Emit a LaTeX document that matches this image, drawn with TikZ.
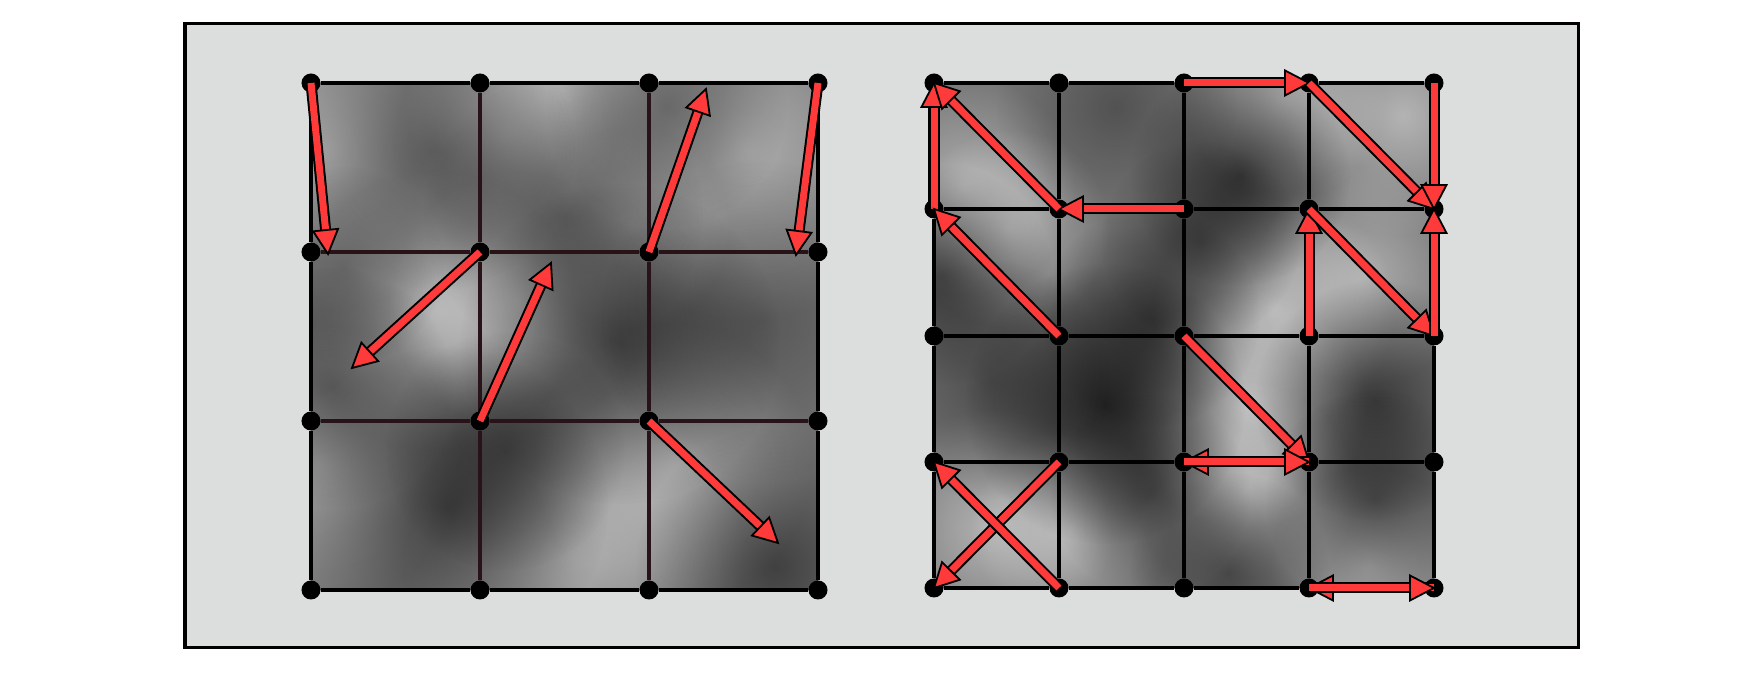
\documentclass[tikz,border=0pt]{standalone}
\usepackage{tikz}
\usetikzlibrary{calc,fadings}
\definecolor{panelgray}{RGB}{220,222,221}
\definecolor{noisegray}{RGB}{118,118,118}
\definecolor{vecred}{RGB}{255,58,58}
\definecolor{seamdark}{RGB}{40,20,24}
\tikzfading[name=blobfade,inner color=transparent!0,outer color=transparent!100]
\tikzset{
  panel/.style={fill=panelgray,draw=black,line width=0.03cm},
  gridpt/.style={circle,fill=black,inner sep=0pt,minimum size=0.19cm},
  seam/.style={draw=seamdark,line width=0.035cm},
  cellline/.style={draw=black,line width=0.04cm},
  lightblob/.style={fill=white,fill opacity=#1,path fading=blobfade},
  darkblob/.style={fill=black,fill opacity=#1,path fading=blobfade},
  vecshaft/.style={draw=black,line width=0.02cm,double=vecred,double distance=0.07cm},
  vectip/.style={fill=vecred,draw=black,line width=0.018cm,line join=miter},
}
% gradient vector from #1 to #2
\newcommand{\gradvec}[2]{%
  \draw[vecshaft] (#1.center) -- ($(#2)!0.2cm!(#1)$);
  \coordinate (tipbase) at ($(#2)!0.24cm!(#1)$);
  \filldraw[vectip] (#2.center) -- ($(tipbase)!0.125cm!90:(#2)$)
    -- ($(tipbase)!0.125cm!-90:(#2)$) -- cycle;
}

\begin{document}
\begin{tikzpicture}[x=0.01cm,y=-0.01cm]
  \useasboundingbox (0,0) rectangle (1762,674);
  \draw[panel] (185,24) rectangle (1578,648);

  % noise, left lattice
  \begin{scope}
    \clip (311,83) rectangle (818,590);
    \fill[noisegray] (311,83) rectangle (818,590);
    \foreach \x/\y/\r/\o in {325/150/80/.4,563/92/80/.45,505/135/55/.3,746/150/85/.4,
        436/310/70/.4,517/301/65/.4,321/464/70/.4,574/559/85/.4,672/464/70/.4,631/228/50/.3}
      \fill[lightblob=\o] (\x,\y) circle [radius={\r*0.02cm}];
    \foreach \x/\y/\r/\o in {436/150/70/.4,563/215/70/.4,666/107/60/.35,333/387/60/.4,
        344/266/50/.3,620/344/80/.5,448/507/80/.5,505/451/60/.4,775/567/70/.45,760/320/80/.25}
      \fill[darkblob=\o] (\x,\y) circle [radius={\r*0.02cm}];
  \end{scope}

  % noise, right lattice
  \begin{scope}
    \clip (934,83) rectangle (1434,588);
    \fill[noisegray] (934,83) rectangle (1434,588);
    \foreach \x/\y/\r/\o in {964/185/55/.4,1285/99/50/.4,1403/116/60/.45,1009/228/50/.4,
        1274/310/60/.45,1364/275/55/.4,1246/408/60/.45,992/529/60/.45,1071/529/50/.4,
        1246/490/55/.4,1369/567/50/.4}
      \fill[lightblob=\o] (\x,\y) circle [radius={\r*0.02cm}];
    \foreach \x/\y/\r/\o in {1116/107/60/.3,1240/176/55/.55,942/275/55/.5,1150/318/55/.45,
        1200/241/50/.4,1105/404/70/.7,1375/400/60/.5,990/380/60/.35,1150/494/50/.4,
        1229/572/50/.45,1375/499/55/.45}
      \fill[darkblob=\o] (\x,\y) circle [radius={\r*0.02cm}];
  \end{scope}

  % lattice points
  \foreach \i/\x in {0/311,1/480,2/649,3/818}
    \foreach \j/\y in {0/83,1/252,2/421,3/590}
      \node[gridpt] (L\i-\j) at (\x,\y) {};
  \foreach \i/\x in {0/934,1/1059,2/1184,3/1309,4/1434}
    \foreach \j/\y in {0/83,1/209,2/336,3/462,4/588}
      \node[gridpt] (R\i-\j) at (\x,\y) {};

  % cell edges
  \foreach \a/\b in {0/1,1/2,2/3} {
    \foreach \i in {1,2} {
      \draw[seam] (L\i-\a) -- (L\i-\b);
      \draw[seam] (L\a-\i) -- (L\b-\i);
    }
    \foreach \i in {0,3} {
      \draw[cellline] (L\i-\a) -- (L\i-\b);
      \draw[cellline] (L\a-\i) -- (L\b-\i);
    }
  }
  \foreach \a/\b in {0/1,1/2,2/3,3/4}
    \foreach \i in {0,...,4} {
      \draw[cellline] (R\i-\a) -- (R\i-\b);
      \draw[cellline] (R\a-\i) -- (R\b-\i);
    }

  % random gradients
  \coordinate (gA) at (328,254);
  \coordinate (gB) at (706,89);
  \coordinate (gC) at (796,255);
  \coordinate (gD) at (352,368);
  \coordinate (gE) at (551,263);
  \coordinate (gF) at (778,543);
  \gradvec{L0-0}{gA}
  \gradvec{L2-1}{gB}
  \gradvec{L3-0}{gC}
  \gradvec{L1-1}{gD}
  \gradvec{L1-2}{gE}
  \gradvec{L2-2}{gF}

  % lattice gradients
  \gradvec{R2-0}{R3-0}
  \gradvec{R3-0}{R4-1}
  \gradvec{R4-0}{R4-1}
  \gradvec{R2-1}{R1-1}
  \gradvec{R0-1}{R0-0}
  \gradvec{R1-1}{R0-0}
  \gradvec{R1-2}{R0-1}
  \gradvec{R3-2}{R3-1}
  \gradvec{R3-1}{R4-2}
  \gradvec{R4-2}{R4-1}
  \gradvec{R2-2}{R3-3}
  \gradvec{R3-3}{R2-3}
  \gradvec{R2-3}{R3-3}
  \gradvec{R1-3}{R0-4}
  \gradvec{R1-4}{R0-3}
  \gradvec{R4-4}{R3-4}
  \gradvec{R3-4}{R4-4}
\end{tikzpicture}
\end{document}
